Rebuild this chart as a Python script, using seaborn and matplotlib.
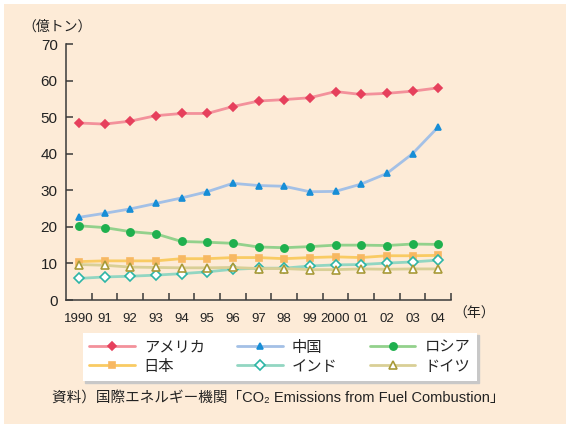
import matplotlib
matplotlib.use("Agg")
import matplotlib.pyplot as plt
import matplotlib.patches as mpatches
from matplotlib.lines import Line2D
from matplotlib.ticker import FixedLocator
import pandas as pd
import seaborn as sns

# ---------------- DATA ----------------
years = list(range(1990, 2005))
year_labels = ["1990", "91", "92", "93", "94", "95", "96", "97", "98", "99",
               "2000", "01", "02", "03", "04"]

usa = [48.4, 48.1, 48.9, 50.4, 51.0, 51.0, 52.9, 54.4, 54.8, 55.3, 57.0, 56.2, 56.5, 57.1, 58.0]
china = [22.6, 23.7, 24.9, 26.4, 27.9, 29.6, 31.9, 31.3, 31.1, 29.6, 29.7, 31.7, 34.6, 40.0, 47.3]
russia = [20.3, 19.8, 18.7, 18.1, 16.0, 15.8, 15.5, 14.5, 14.3, 14.6, 15.0, 15.0, 14.9, 15.3, 15.2]
japan = [10.5, 10.7, 10.7, 10.7, 11.3, 11.3, 11.6, 11.6, 11.3, 11.6, 11.8, 11.6, 12.1, 12.1, 12.2]
india = [5.9, 6.3, 6.5, 6.8, 7.2, 7.7, 8.4, 8.7, 8.7, 9.3, 9.6, 9.7, 10.1, 10.4, 10.9]
germany = [9.7, 9.5, 9.0, 8.9, 8.8, 8.8, 8.9, 8.6, 8.6, 8.3, 8.3, 8.5, 8.4, 8.5, 8.5]

names = ["アメリカ", "中国", "ロシア", "日本", "インド", "ドイツ"]
values = [usa, china, russia, japan, india, germany]

# line colour, marker, marker face, marker edge, marker size
styles = {
    "アメリカ": ("#f3919b", "D", "#e6405c", "#e6405c", 4.3),
    "中国": ("#a3c0e6", "^", "#178ed6", "#178ed6", 4.8),
    "ロシア": ("#93d18c", "o", "#1fb04e", "#1fb04e", 5.2),
    "日本": ("#f9cb63", "s", "#f7b862", "#f7b862", 4.8),
    "インド": ("#92d6c2", "D", "white", "#2db5a6", 4.8),
    "ドイツ": ("#d9cf96", "^", "white", "#a89a38", 5.6),
}

df = pd.DataFrame({"year": years * len(names),
                   "country": [n for n in names for _ in years],
                   "value": [v for vals in values for v in vals]})

# ---------------- STYLE ----------------
BG = "#fdebd7"
sns.set_style("ticks")
plt.rcParams["font.family"] = ["Liberation Sans", "Noto Sans CJK JP", "DejaVu Sans"]
JP = ["Noto Sans CJK JP", "DejaVu Sans"]
MIX = ["Liberation Sans", "Noto Sans CJK JP", "DejaVu Sans"]

fig = plt.figure(figsize=(5.66, 4.24), dpi=100, facecolor="white")
fig.patches.append(mpatches.Rectangle((4 / 566, 0), 1, 1 - 4 / 424, transform=fig.transFigure,
                                      facecolor=BG, edgecolor="none", zorder=-1))
ax = fig.add_axes([66 / 566, 1 - 300 / 424, (451 - 66) / 566, (300 - 44) / 424])
ax.set_facecolor("none")

# ---------------- PLOT ----------------
handles = {}
for name in names:
    lc, mk, mf, me, ms = styles[name]
    sub = df[df["country"] == name]
    sns.lineplot(data=sub, x="year", y="value", ax=ax, color=lc, linewidth=2.0,
                 marker=mk, markersize=ms, markerfacecolor=mf, markeredgecolor=me,
                 markeredgewidth=1.2, legend=False, zorder=3)
    handles[name] = Line2D([], [], color=lc, linewidth=2.0, marker=mk, markersize=ms,
                           markerfacecolor=mf, markeredgecolor=me, markeredgewidth=1.2)

ax.set_xlim(1989.5, 2004.5)
ax.set_ylim(0, 70)
ax.set_xlabel("")
ax.set_ylabel("")
sns.despine(ax=ax)
for s in ["left", "bottom"]:
    ax.spines[s].set_color("#3a3a3a")
    ax.spines[s].set_linewidth(1.1)

ax.set_xticks(years)
ax.set_xticklabels(year_labels)
ax.xaxis.set_minor_locator(FixedLocator([y + 0.5 for y in years]))
ax.tick_params(axis="x", which="major", length=0, pad=9, labelsize=9.5, colors="#222222")
ax.tick_params(axis="x", which="minor", direction="in", length=5, width=1.1, color="#3a3a3a")
ax.set_yticks(range(0, 71, 10))
ax.tick_params(axis="y", direction="in", length=5, width=1.1, color="#3a3a3a",
               pad=6, labelsize=11, labelcolor="#222222")

fig.text(22 / 566, 1 - 27 / 424, "（億トン）", fontsize=10, family=JP, va="center", color="#222222")
fig.text(453 / 566, 1 - 314 / 424, "（年）", fontsize=10, family=JP, va="center", color="#222222")

# legend fills column by column, so order as rows of 3
order = ["アメリカ", "日本", "中国", "インド", "ロシア", "ドイツ"]
leg = fig.legend([handles[n] for n in order], order, ncol=3, loc="upper left",
                 bbox_to_anchor=(75 / 566, 1 - 325 / 424), frameon=True, fancybox=False,
                 shadow={"color": "#c8c8c8", "alpha": 1}, handlelength=3.0,
                 columnspacing=2.1, handletextpad=0.6, labelspacing=0.12,
                 borderpad=0.4, prop={"family": JP, "size": 11})
leg.get_frame().set_facecolor("white")
leg.get_frame().set_edgecolor("none")
leg.get_frame().set_alpha(1)

fig.text(52 / 566, 1 - 399 / 424,
         "資料）国際エネルギー機関「CO₂ Emissions from Fuel Combustion」",
         fontsize=10.5, family=MIX, va="center", color="#222222")

fig.savefig("out.png", dpi=100, facecolor="white")
